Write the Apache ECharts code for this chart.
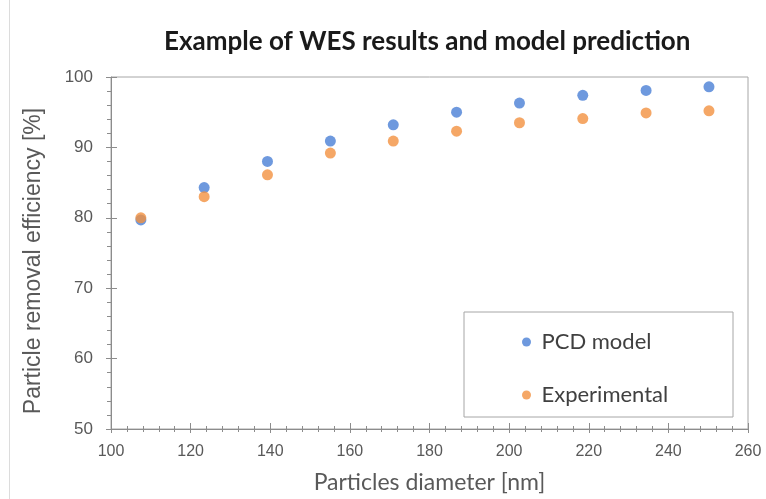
<!DOCTYPE html>
<html>
<head>
<meta charset="utf-8">
<title>WES results</title>
<script src="https://cdn.jsdelivr.net/npm/echarts@6/dist/echarts.min.js"></script>
<style>
  html, body { margin: 0; padding: 0; background: #fff; }
  #chart { width: 766px; height: 499px; }
</style>
</head>
<body>
<div id="chart"></div>
<script>
// particle diameters [nm]
const diameters = [107.5, 123.4, 139.3, 155.1, 170.9, 186.8, 202.6, 218.5, 234.4, 250.2];
// removal efficiency [%]
const pcdModel = [79.7, 84.3, 88.0, 90.9, 93.2, 95.0, 96.3, 97.4, 98.1, 98.6];
const experimental = [80.0, 83.0, 86.1, 89.2, 90.9, 92.3, 93.5, 94.1, 94.9, 95.2];

const seriesNames = ["PCD model", "Experimental"];
const colors = ["#4a7fd6", "#f39140"];

const axisGray = "#8c8c8c";
const labelGray = "#595959";

const chart = echarts.init(document.getElementById("chart"));

function pairs(xs, ys) {
  return xs.map((x, i) => [x, ys[i]]);
}

chart.setOption({
  animation: false,
  title: {
    text: "Example of WES results and model prediction",
    left: 159,
    top: 24,
    textStyle: { fontFamily: "Lato", fontWeight: "bold", fontSize: 26, color: "#1a1a1a" }
  },
  grid: {
    left: 111, right: 18, top: 77, bottom: 65,
    show: true, borderColor: "#a6a6a6", borderWidth: 1
  },
  legend: {
    data: seriesNames,
    orient: "vertical",
    left: 517,
    top: 326,
    itemGap: 31,
    icon: "circle",
    itemWidth: 20,
    itemHeight: 9,
    textStyle: { fontFamily: "Lato", fontSize: 22, color: "#404040" }
  },
  graphic: [
    { type: "rect", shape: { x: 464, y: 312, width: 269, height: 105 },
      style: { fill: "#fff", stroke: "#a6a6a6", lineWidth: 1 }, z: -1 },
    { type: "line", shape: { x1: 9.5, y1: 0, x2: 9.5, y2: 499 },
      style: { stroke: "#dcdcdc", lineWidth: 1 } }
  ],
  xAxis: [
    {
      type: "value", position: "bottom", min: 100, max: 260, interval: 20,
      name: "Particles diameter [nm]", nameLocation: "middle", nameGap: 42,
      nameTextStyle: { fontFamily: "Lato", fontSize: 23, color: labelGray },
      axisLine: { lineStyle: { color: axisGray } },
      axisTick: { show: true, inside: false, length: 4, lineStyle: { color: axisGray } },
      minorTick: { show: true, splitNumber: 5, length: 3, lineStyle: { color: axisGray } },
      axisLabel: { margin: 15, fontFamily: "Liberation Sans", fontSize: 16, color: labelGray },
      splitLine: { show: false }
    },
    {
      type: "value", position: "bottom", min: 100, max: 260, interval: 20,
      axisLine: { show: false },
      axisTick: { show: true, inside: true, length: 6, lineStyle: { color: axisGray } },
      minorTick: { show: true, splitNumber: 5, length: 3, lineStyle: { color: axisGray } },
      axisLabel: { show: false },
      splitLine: { show: false }
    }
  ],
  yAxis: [
    {
      type: "value", position: "left", min: 50, max: 100, interval: 10,
      name: "Particle removal efficiency [%]", nameLocation: "middle", nameGap: 66,
      nameTextStyle: { fontFamily: "Liberation Sans", fontSize: 23, color: labelGray, padding: [0, 16, 0, 0] },
      axisLine: { show: true, lineStyle: { color: axisGray } },
      axisTick: { show: true, inside: false, length: 5, lineStyle: { color: axisGray } },
      minorTick: { show: true, splitNumber: 5, length: 4, lineStyle: { color: axisGray } },
      axisLabel: { margin: 18, fontFamily: "Liberation Sans", fontSize: 17, color: labelGray },
      splitLine: { show: false }
    },
    {
      type: "value", position: "left", min: 50, max: 100, interval: 10,
      axisLine: { show: false },
      axisTick: { show: true, inside: true, length: 6, lineStyle: { color: axisGray } },
      axisLabel: { show: false },
      splitLine: { show: false }
    }
  ],
  series: [
    {
      name: seriesNames[0], type: "scatter", symbolSize: 11,
      itemStyle: { color: colors[0] },
      data: pairs(diameters, pcdModel)
    },
    {
      name: seriesNames[1], type: "scatter", symbolSize: 11,
      itemStyle: { color: colors[1] },
      data: pairs(diameters, experimental)
    }
  ]
});
</script>
</body>
</html>
